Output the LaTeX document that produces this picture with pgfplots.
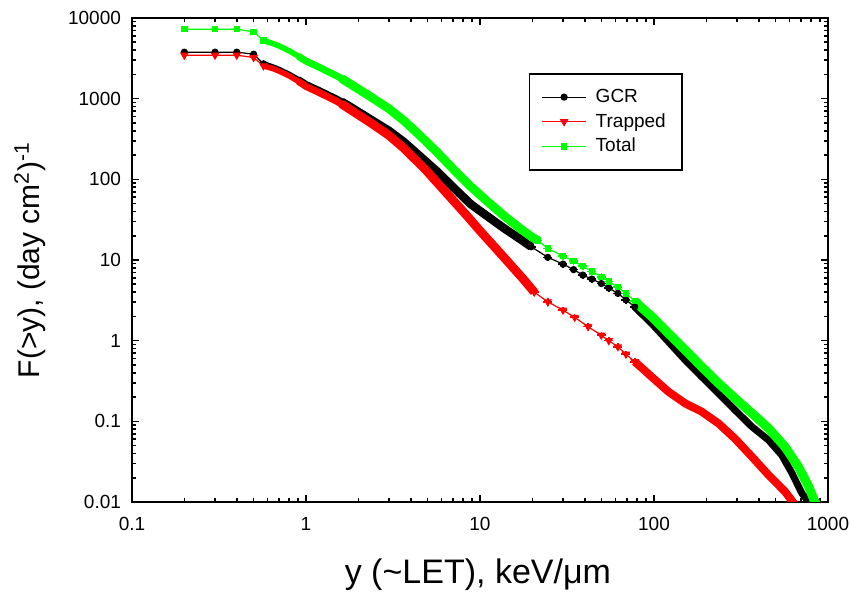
\documentclass[border=0pt]{standalone}
\usepackage{fontspec}
\setmainfont{Liberation Sans}
\usepackage{pgfplots}
\pgfplotsset{compat=1.18}
\definecolor{tgreen}{RGB}{0,255,0}
\definecolor{tred}{RGB}{255,0,0}
\pgfplotsset{
  gcr/.style={black, line width=0.6pt, mark=*, mark size=1.5pt, mark options={solid, fill=black}},
  trp/.style={tred, line width=0.6pt, mark=triangle*, mark size=1.9pt, mark options={solid, fill=tred, rotate=180}},
  tot/.style={tgreen, line width=0.6pt, mark=square*, mark size=1.3pt, mark options={solid, fill=tgreen}},
  band/.style={no marks, line cap=butt, line join=round},
  ebars/.style={error bars/.cd, x dir=both, x fixed relative=0.06, y dir=both, y fixed relative=0.1, error mark=none, error bar style={line width=0.8pt}},
}
\begin{document}
\begin{tikzpicture}
\begin{axis}[
  name=ax,
  xmode=log, ymode=log,
  scale only axis, width=348pt, height=242pt,
  xmin=0.1, xmax=1000, ymin=0.01, ymax=10000,
  xtick={0.1,1,10,100,1000}, xticklabels={0.1,1,10,100,1000},
  ytick={0.01,0.1,1,10,100,1000,10000}, yticklabels={0.01,0.1,1,10,100,1000,10000},
  minor xtick={0.2,0.3,0.4,0.5,0.6,0.7,0.8,0.9,2,3,4,5,6,7,8,9,20,30,40,50,60,70,80,90,200,300,400,500,600,700,800,900},
  minor ytick={0.02,0.03,0.04,0.05,0.06,0.07,0.08,0.09,0.2,0.3,0.4,0.5,0.6,0.7,0.8,0.9,2,3,4,5,6,7,8,9,20,30,40,50,60,70,80,90,200,300,400,500,600,700,800,900,2000,3000,4000,5000,6000,7000,8000,9000},
  tick label style={font=\fontsize{9.5}{11}\selectfont},
  xticklabel style={yshift=-4pt},
  yticklabel style={xshift=-2pt},
  major tick length=3.5pt, minor tick length=2pt,
  tick align=inside,
  axis line style={line width=1pt},
  tick style={black, line width=0.8pt},
  xlabel={y (\textasciitilde LET), keV/μm},
  ylabel={F(>y), (day cm\textsuperscript{2})\textsuperscript{-1}},
  xlabel style={font=\fontsize{17}{20}\selectfont, at={(axis description cs:0.497,-0.151)}, anchor=center},
  ylabel style={font=\fontsize{15}{18}\selectfont, at={(axis description cs:-0.1466,0.5)}, anchor=center},
  legend cell align=left,
  legend style={at={(0.57,0.886)}, anchor=north west, draw=black, line width=0.8pt,
    font=\fontsize{9.5}{11}\selectfont, inner xsep=6pt, inner ysep=5.5pt, row sep=0pt, column sep=2.5pt},
  legend image code/.code={\draw[mark repeat=2,mark phase=2,#1] plot coordinates {(0pt,0pt) (11pt,0pt) (22pt,0pt)};},
]
% ---------- GCR ----------
\addplot[gcr] coordinates {(0.2,3770)(0.3,3770)(0.4,3770)(0.5,3560)(0.57,2700)};
\addlegendentry{GCR}
\addplot[gcr, forget plot, ebars] coordinates {(19.7,14.6)(24.5,10.8)(30,8.9)(34.5,7.6)(39,6.5)(44,5.8)(49.8,5.1)(55,4.5)(62,3.86)(69,3.2)(77.5,2.63)};
\addplot[band, black, line width=2.8pt, forget plot] coordinates {(0.57,2700)(0.65,2450)(0.7,2300)(0.8,2000)(0.9,1730)(1.0,1500)(1.2,1250)(1.35,1100)};
\addplot[band, black, line width=3.5pt, forget plot] coordinates {(0.9,1730)(1.0,1500)(1.2,1250)(1.5,990)(1.8,790)(2.2,610)};
\addplot[band, black, line width=4.2pt, forget plot] coordinates {(1.6,920)(1.8,790)(2.36,550)(3.0,400)(3.66,290)(4.5,195)(5.7,124)(7.0,80)(8.87,49)(11,35)(13.8,24.6)(17,18.2)(19.7,14.6)};
\addplot[band, black, line width=3.5pt, forget plot] coordinates {(77.5,2.63)(86,2.1)(96.8,1.64)(121,0.97)(151,0.575)(188,0.357)(235,0.222)(292,0.138)(365,0.086)(455,0.0586)(543,0.038)(621,0.0227)(708,0.0128)(776,0.0100)(800,0.009)};
% ---------- Trapped ----------
\addplot[trp] coordinates {(0.2,3460)(0.3,3460)(0.4,3460)(0.5,3240)(0.57,2550)};
\addlegendentry{Trapped}
\addplot[trp, forget plot, ebars] coordinates {(20.5,4.0)(24.5,3.03)(30,2.39)(35,1.95)(41.8,1.49)(49.8,1.17)(55,1.0)(62,0.84)(69,0.68)(77.5,0.548)};
\addplot[band, tred, line width=2.8pt, forget plot] coordinates {(0.57,2550)(0.65,2350)(0.7,2200)(0.8,1920)(0.9,1650)(1.0,1420)(1.2,1180)(1.35,1040)};
\addplot[band, tred, line width=3.5pt, forget plot] coordinates {(0.9,1650)(1.0,1420)(1.2,1180)(1.5,930)(1.8,730)(2.2,560)};
\addplot[band, tred, line width=4.4pt, forget plot] coordinates {(1.6,860)(1.8,730)(2.36,500)(3.0,350)(3.66,242)(4.89,130)(5.7,90)(7.0,55)(8.5,34.5)(10,23)(12.5,13.5)(15,8.7)(17.5,6.0)(20.5,4.0)};
\addplot[band, tred, line width=4pt, forget plot] coordinates {(77.5,0.548)(86,0.45)(96.8,0.357)(121,0.233)(151,0.167)(188,0.132)(235,0.094)(292,0.061)(365,0.0365)(455,0.0216)(567,0.0134)(628,0.0100)(660,0.0088)};
% ---------- Total ----------
\addplot[tot] coordinates {(0.2,7260)(0.3,7260)(0.4,7260)(0.5,6750)(0.57,5250)};
\addlegendentry{Total}
\addplot[tot, forget plot, ebars] coordinates {(21.5,17.5)(24.5,13.9)(30,11.2)(34.5,9.7)(39,8.4)(44,7.2)(49.8,6.2)(55,5.4)(62,4.6)(69,3.85)(77.5,3.1)};
\addplot[band, tgreen, line width=2.8pt, forget plot] coordinates {(0.57,5250)(0.65,4800)(0.7,4500)(0.8,3920)(0.9,3380)(1.0,2920)(1.2,2430)(1.35,2140)};
\addplot[band, tgreen, line width=3.5pt, forget plot] coordinates {(0.9,3380)(1.0,2920)(1.2,2430)(1.5,1920)(1.8,1520)(2.2,1170)};
\addplot[band, tgreen, line width=4.4pt, forget plot] coordinates {(1.6,1780)(1.8,1520)(2.36,1050)(3.0,750)(3.66,532)(4.5,352)(5.7,214)(7.0,135)(8.87,81)(11,53.5)(13.8,35)(17,24.6)(19.7,19.5)(21.5,17.5)};
\addplot[band, tgreen, line width=4.6pt, forget plot] coordinates {(77.5,3.1)(86,2.5)(96.8,2.0)(121,1.23)(151,0.766)(188,0.475)(235,0.296)(292,0.193)(365,0.126)(455,0.082)(567,0.048)(678,0.027)(774,0.0155)(841,0.0100)(870,0.009)};
\end{axis}
\pgfresetboundingbox
\path[use as bounding box] ([xshift=-66pt,yshift=-46pt]ax.south west) rectangle ([xshift=11pt,yshift=9pt]ax.north east);
\end{tikzpicture}
\end{document}
